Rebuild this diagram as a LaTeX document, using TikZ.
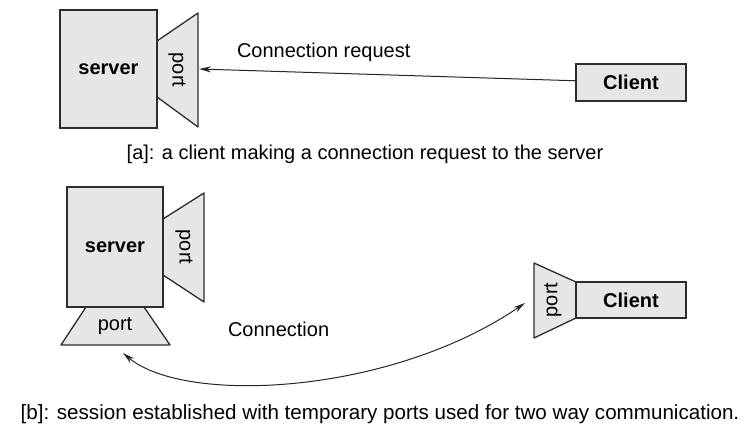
\documentclass[tikz,border=0pt]{standalone}
\usepackage{fontspec}
\setmainfont{Liberation Sans}
\usetikzlibrary{arrows.meta}
\definecolor{boxgray}{RGB}{230,230,231}
\definecolor{edgegray}{RGB}{45,45,45}

\begin{document}
\begin{tikzpicture}[x=1pt,y=-1pt,>={Stealth[length=12pt,width=6pt]},
  every node/.style={font=\fontsize{20}{24}\selectfont,inner sep=0pt,outer sep=0pt},
  box/.style={draw=edgegray,fill=boxgray,line width=1.3pt,font=\fontsize{20}{24}\selectfont\bfseries},
  portshape/.style={draw=edgegray,fill=boxgray,line width=1.3pt,line join=round},
  link/.style={draw=black!85,line width=1pt}]
  \useasboundingbox (0,0) rectangle (750,430);

  % [a] connection request
  \draw[portshape] (157,41) -- (198,13) -- (198,127) -- (157,97) -- cycle;
  \node[box,minimum width=97pt,minimum height=118pt] (srvA) at (108.5,69) {server};
  \node[rotate=-90] (portA) at (177,70) {port};
  \node[box,minimum width=110pt,minimum height=37pt] (cliA) at (631,82.5) {Client};
  \coordinate (reqEnd) at (199,69);

  \draw[link,->] (cliA) -- (reqEnd);
  \node[anchor=base west] (reqLbl) at (237,58) {Connection request};
  \node[anchor=base] (capA) at (365,160) {[a]: a client making a connection request to the server};

  % [b] session with temporary ports
  \draw[portshape] (163,219) -- (204,193) -- (204,302) -- (163,275) -- cycle;
  \draw[portshape] (86,307) -- (144,307) -- (170,345) -- (61,345) -- cycle;
  \node[box,minimum width=96pt,minimum height=120pt] (srvB) at (115,247) {server};
  \node[rotate=-90] (portBr) at (184,247) {port};
  \node (portBb) at (115,326) {port};

  \draw[portshape] (576,282) -- (534,263) -- (534,338) -- (576,318) -- cycle;
  \node[box,minimum width=110pt,minimum height=36pt] (cliB) at (631,300) {Client};
  \node[rotate=90] (portC) at (553,300) {port};

  \coordinate (connL) at (123,353);
  \coordinate (connR) at (525,303);
  \draw[link,<->] (connL) .. controls (185,405) and (390,395) .. (connR);
  \node[anchor=base west] (connLbl) at (228,337) {Connection};
  \node[anchor=base,font=\fontsize{20.6}{24}\selectfont] (capB) at (380,420) {[b]: session established with temporary ports used for two way communication.};
\end{tikzpicture}
\end{document}
